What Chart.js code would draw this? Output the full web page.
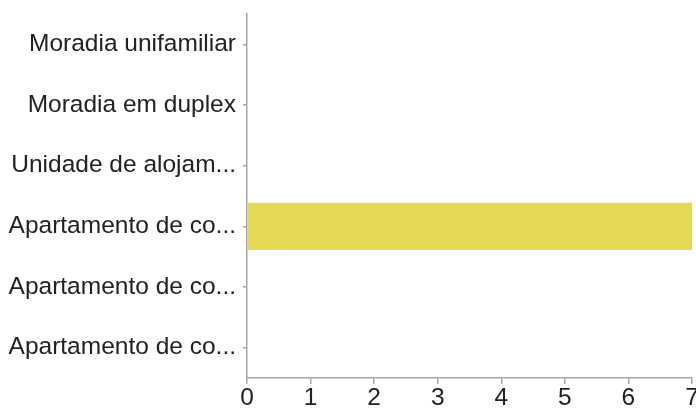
<!DOCTYPE html>
<html>
<head>
<meta charset="utf-8">
<script src="https://cdn.jsdelivr.net/npm/chart.js@4"></script>
<style>
  html, body { margin: 0; padding: 0; background: #fff; }
  #wrap { width: 696px; height: 409px; }
</style>
</head>
<body>
<div id="wrap"><canvas id="chart" width="696" height="409"></canvas></div>
<script>
// categorias (texto truncado como no original)
const categories = [
    "Moradia unifamiliar",
    "Moradia em duplex",
    "Unidade de alojam...",
    "Apartamento de co...",
    "Apartamento de co...",
    "Apartamento de co..."
];
const counts = [0, 0, 0, 7, 0, 0];
const xTicks = [0, 1, 2, 3, 4, 5, 6, 7];

const axisGray = '#a6a6a6';
const textColor = '#222222';
const font = { family: 'Liberation Sans, Arial, sans-serif', size: 24.5 };

const ctx = document.getElementById('chart').getContext('2d');
new Chart(ctx, {
    type: 'bar',
    data: {
        labels: categories,
        datasets: [{
            data: counts,
            backgroundColor: '#e5d955',
            borderWidth: 0,
            barPercentage: 0.78,
            categoryPercentage: 1.0
        }]
    },
    options: {
        indexAxis: 'y',
        responsive: false,
        animation: false,
        layout: { padding: { top: 14, right: 4, left: 0, bottom: 0 } },
        plugins: { legend: { display: false }, tooltip: { enabled: false } },
        scales: {
            x: {
                min: xTicks[0],
                max: xTicks[xTicks.length - 1],
                afterBuildTicks: s => { s.ticks = xTicks.map(v => ({ value: v })); },
                afterFit: s => { s.height = 31; s.paddingLeft = 0; s.paddingRight = 0; },
                border: { color: axisGray, width: 1.5 },
                grid: { drawOnChartArea: false, color: axisGray, tickLength: 6, lineWidth: 1.5 },
                ticks: { color: textColor, padding: 0, maxRotation: 0, font: font }
            },
            y: {
                afterFit: s => { s.width = 247; s.paddingTop = 0; s.paddingBottom = 0; },
                border: { color: axisGray, width: 1.5 },
                grid: { offset: false, drawOnChartArea: false, color: axisGray, tickLength: 4, lineWidth: 1.5 },
                ticks: { color: textColor, padding: 7, autoSkip: false, font: font }
            }
        }
    }
});
</script>
</body>
</html>
